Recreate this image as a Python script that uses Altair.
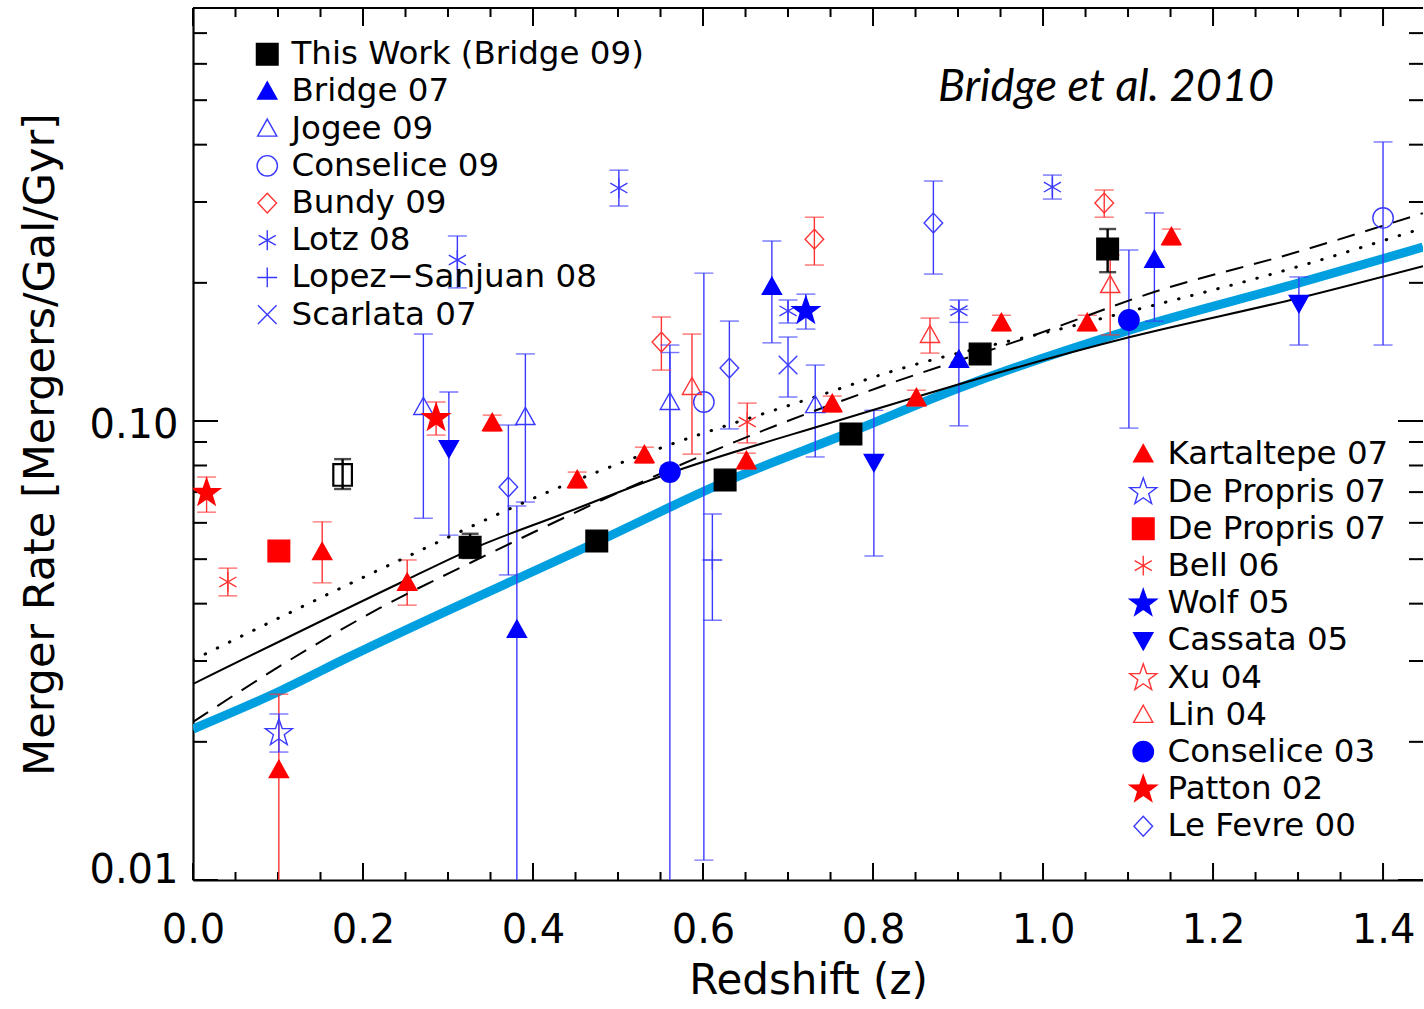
import altair as alt
import pandas as pd

# ---------------- values ----------------
X_DOMAIN = [0.0, 1.447]
Y_DOMAIN = [0.01, 0.794]
X_LABELS = [0.0, 0.2, 0.4, 0.6, 0.8, 1.0, 1.2, 1.4]
X_MINOR = [0.05, 0.1, 0.15, 0.25, 0.3, 0.35, 0.45, 0.5, 0.55, 0.65, 0.7, 0.75,
           0.85, 0.9, 0.95, 1.05, 1.1, 1.15, 1.25, 1.3, 1.35]
Y_LABELS = [0.01, 0.1]
Y_MINOR = [0.02, 0.03, 0.04, 0.05, 0.06, 0.07, 0.08, 0.09, 0.2, 0.3, 0.4, 0.5, 0.6, 0.7]

# left legend group
THIS_WORK_Z = [0.326, 0.475, 0.626, 0.774, 0.926, 1.076]
THIS_WORK_RATE = [0.0531, 0.0548, 0.0744, 0.0937, 0.140, 0.237]
THIS_WORK_LO = [0.0503, 0.0532, 0.0722, 0.0909, 0.136, 0.211]
THIS_WORK_HI = [0.0568, 0.0564, 0.0766, 0.0965, 0.144, 0.262]

THIS_WORK_OPEN_Z = [0.176]
THIS_WORK_OPEN_RATE = [0.0763]
THIS_WORK_OPEN_LO = [0.0711]
THIS_WORK_OPEN_HI = [0.0826]

BRIDGE07_Z = [0.381, 0.681, 0.901, 1.131]
BRIDGE07_RATE = [0.0351, 0.196, 0.136, 0.2244]
BRIDGE07_LO = [0.005, 0.148, 0.0976, 0.165]
BRIDGE07_HI = [0.0653, 0.2467, 0.175, 0.284]

JOGEE09_Z = [0.271, 0.391, 0.561, 0.732]
JOGEE09_RATE = [0.1073, 0.102, 0.110, 0.1083]
JOGEE09_LO = [0.0614, 0.0666, 0.080, 0.0835]
JOGEE09_HI = [0.1547, 0.140, 0.141, 0.1324]

CONSELICE09_Z = [0.601, 1.400]
CONSELICE09_RATE = [0.110, 0.277]
CONSELICE09_LO = [0.01105, 0.1464]
CONSELICE09_HI = [0.210, 0.4055]

BUNDY09_Z = [0.551, 0.731, 1.072]
BUNDY09_RATE = [0.1486, 0.249, 0.2985]
BUNDY09_LO = [0.1291, 0.2187, 0.278]
BUNDY09_HI = [0.1685, 0.278, 0.3186]

LOTZ08_Z = [0.311, 0.501, 0.700, 0.901, 1.011]
LOTZ08_RATE = [0.2243, 0.3218, 0.1737, 0.174, 0.3234]
LOTZ08_LO = [0.195, 0.294, 0.1635, 0.164, 0.3045]
LOTZ08_HI = [0.253, 0.352, 0.1835, 0.1835, 0.3434]

LOPEZ08_Z = [0.611]
LOPEZ08_RATE = [0.0498]
LOPEZ08_LO = [0.0368]
LOPEZ08_HI = [0.0627]

SCARLATA07_Z = [0.700]
SCARLATA07_RATE = [0.1324]
SCARLATA07_LO = [0.1128]
SCARLATA07_HI = [0.1524]

# right legend group
KARTALTEPE07_Z = [0.101, 0.152, 0.252, 0.352, 0.452, 0.531, 0.651, 0.752, 0.851, 0.951, 1.052, 1.151]
KARTALTEPE07_RATE = [0.01737, 0.0518, 0.0444, 0.099, 0.0744, 0.0843, 0.0818, 0.1089, 0.1122, 0.1635, 0.1635, 0.2518]
KARTALTEPE07_LO = [0.005, 0.0444, 0.0397, 0.0950, 0.0714, 0.0809, 0.0785, 0.1045, 0.1077, 0.1570, 0.1570, 0.2417]
KARTALTEPE07_HI = [0.0254, 0.0603, 0.0498, 0.1030, 0.0774, 0.0877, 0.0851, 0.1133, 0.1167, 0.1700, 0.1700, 0.2619]

DEPROPRIS07_STAR_Z = [0.101]
DEPROPRIS07_STAR_RATE = [0.0209]
DEPROPRIS07_STAR_LO = [0.019]
DEPROPRIS07_STAR_HI = [0.023]

DEPROPRIS07_SQ_Z = [0.101]
DEPROPRIS07_SQ_RATE = [0.0521]

BELL06_Z = [0.041, 0.652]
BELL06_RATE = [0.0446, 0.0995]
BELL06_LO = [0.0416, 0.0896]
BELL06_HI = [0.0478, 0.1094]

WOLF05_Z = [0.721]
WOLF05_RATE = [0.1737]
WOLF05_LO = [0.1586]
WOLF05_HI = [0.189]

CASSATA05_Z = [0.301, 0.801, 1.301]
CASSATA05_RATE = [0.0873, 0.0814, 0.1807]
CASSATA05_LO = [0.0564, 0.0508, 0.1464]
CASSATA05_HI = [0.1157, 0.1055, 0.206]

XU04_Z = []
XU04_RATE = []

LIN04_Z = [0.587, 0.867, 1.079]
LIN04_RATE = [0.1186, 0.154, 0.1978]
LIN04_LO = [0.0847, 0.1406, 0.154]
LIN04_HI = [0.1547, 0.1676, 0.23]

CONSELICE03_Z = [0.561, 1.101]
CONSELICE03_RATE = [0.0774, 0.166]
CONSELICE03_LO = [0.005, 0.0965]
CONSELICE03_HI = [0.1464, 0.2358]

PATTON02_Z = [0.016, 0.286]
PATTON02_RATE = [0.0697, 0.1015]
PATTON02_LO = [0.0633, 0.0932]
PATTON02_HI = [0.0755, 0.110]

LEFEVRE00_Z = [0.371, 0.631, 0.871]
LEFEVRE00_RATE = [0.0718, 0.1304, 0.27]
LEFEVRE00_LO = [0.0462, 0.0961, 0.209]
LEFEVRE00_HI = [0.098, 0.1651, 0.3333]

# model curves
CYAN_Z = [0.0, 0.1024, 0.1812, 0.4753, 0.6259, 0.7741, 0.9012, 1.1024, 1.3012, 1.447]
CYAN_RATE = [0.02133, 0.02581, 0.03047, 0.05451, 0.07365, 0.09463, 0.1180, 0.1579, 0.1999, 0.2392]
SOLID_Z = [0.0, 0.2435, 0.3259, 0.4318, 0.5612, 0.7494, 1.1024, 1.3012, 1.447]
SOLID_RATE = [0.02673, 0.04437, 0.0524, 0.06242, 0.07703, 0.0990, 0.1524, 0.1854, 0.2175]
DASHED_Z = [0.0, 0.1141, 0.22, 0.3259, 0.6635, 0.8082, 0.9835, 1.1306, 1.2988, 1.447]
DASHED_RATE = [0.02209, 0.03016, 0.03914, 0.04905, 0.09416, 0.1186, 0.1524, 0.191, 0.2334, 0.2838]
DOTTED_Z = [0.0, 0.2435, 0.4318, 0.5341, 0.7494, 0.8082, 1.0529, 1.2988, 1.447]
DOTTED_RATE = [0.03016, 0.04979, 0.07183, 0.08517, 0.1157, 0.1259, 0.1643, 0.2166, 0.2632]

ANNOTATION = ["Bridge et al. 2010"]
X_TITLE = "Redshift (z)"
Y_TITLE = "Merger Rate [Mergers/Gal/Gyr]"

# ---------------- styles ----------------
FONT = "DejaVu Sans"
W, H = 1230, 872
BLUE, LBLUE = "#0000ff", "#3a3aff"
RED, LRED = "#ff0000", "#ff3434"
CYAN = "#00a0e0"
NONE = "transparent"

SQUARE = "M-0.72,-0.72L0.72,-0.72L0.72,0.72L-0.72,0.72Z"
TRI_UP = "M0,-0.64L0.64,0.5L-0.64,0.5Z"
TRI_DOWN = "M0,0.64L0.64,-0.5L-0.64,-0.5Z"
CIRCLE = "M0.68,0A0.68,0.68,0,1,1,-0.68,0A0.68,0.68,0,1,1,0.68,0Z"
DIAMOND = "M0,-0.66L0.62,0L0,0.66L-0.62,0Z"
ASTER = "M0,-0.66L0,0.66M-0.57,-0.33L0.57,0.33M-0.57,0.33L0.57,-0.33"
PLUS = "M-0.66,0L0.66,0M0,-0.66L0,0.66"
CROSS = "M-0.62,-0.62L0.62,0.62M-0.62,0.62L0.62,-0.62"
STAR = ("M0,-0.95L0.2234,-0.3074L0.9035,-0.2936L0.3614,0.1174L0.5586,0.7686L0,0.38"
        "L-0.5586,0.7686L-0.3614,0.1174L-0.9035,-0.2936L-0.2234,-0.3074Z")

# (legend key, z, rate, lo, hi, shape, fill, stroke, errcolor)
LEFT = [
    ("This Work (Bridge 09)", THIS_WORK_Z, THIS_WORK_RATE, THIS_WORK_LO, THIS_WORK_HI, SQUARE, "black", "black", "black"),
    ("Bridge 07", BRIDGE07_Z, BRIDGE07_RATE, BRIDGE07_LO, BRIDGE07_HI, TRI_UP, BLUE, BLUE, LBLUE),
    ("Jogee 09", JOGEE09_Z, JOGEE09_RATE, JOGEE09_LO, JOGEE09_HI, TRI_UP, NONE, LBLUE, LBLUE),
    ("Conselice 09", CONSELICE09_Z, CONSELICE09_RATE, CONSELICE09_LO, CONSELICE09_HI, CIRCLE, NONE, LBLUE, LBLUE),
    ("Bundy 09", BUNDY09_Z, BUNDY09_RATE, BUNDY09_LO, BUNDY09_HI, DIAMOND, NONE, LRED, LRED),
    ("Lotz 08", LOTZ08_Z, LOTZ08_RATE, LOTZ08_LO, LOTZ08_HI, ASTER, NONE, LBLUE, LBLUE),
    ("Lopez\u2212Sanjuan 08", LOPEZ08_Z, LOPEZ08_RATE, LOPEZ08_LO, LOPEZ08_HI, PLUS, NONE, LBLUE, LBLUE),
    ("Scarlata 07", SCARLATA07_Z, SCARLATA07_RATE, SCARLATA07_LO, SCARLATA07_HI, CROSS, NONE, LBLUE, LBLUE),
]
RIGHT = [
    ("Kartaltepe 07", KARTALTEPE07_Z, KARTALTEPE07_RATE, KARTALTEPE07_LO, KARTALTEPE07_HI, TRI_UP, RED, RED, LRED),
    ("De Propris 07", DEPROPRIS07_STAR_Z, DEPROPRIS07_STAR_RATE, DEPROPRIS07_STAR_LO, DEPROPRIS07_STAR_HI, STAR, NONE, LBLUE, LBLUE),
    ("De Propris 07*", DEPROPRIS07_SQ_Z, DEPROPRIS07_SQ_RATE, None, None, SQUARE, RED, RED, LRED),
    ("Bell 06", BELL06_Z, BELL06_RATE, BELL06_LO, BELL06_HI, ASTER, NONE, LRED, LRED),
    ("Wolf 05", WOLF05_Z, WOLF05_RATE, WOLF05_LO, WOLF05_HI, STAR, BLUE, BLUE, LBLUE),
    ("Cassata 05", CASSATA05_Z, CASSATA05_RATE, CASSATA05_LO, CASSATA05_HI, TRI_DOWN, BLUE, BLUE, LBLUE),
    ("Xu 04", XU04_Z, XU04_RATE, None, None, STAR, NONE, LRED, LRED),
    ("Lin 04", LIN04_Z, LIN04_RATE, LIN04_LO, LIN04_HI, TRI_UP, NONE, LRED, LRED),
    ("Conselice 03", CONSELICE03_Z, CONSELICE03_RATE, CONSELICE03_LO, CONSELICE03_HI, CIRCLE, BLUE, BLUE, LBLUE),
    ("Patton 02", PATTON02_Z, PATTON02_RATE, PATTON02_LO, PATTON02_HI, STAR, RED, RED, LRED),
    ("Le Fevre 00", LEFEVRE00_Z, LEFEVRE00_RATE, LEFEVRE00_LO, LEFEVRE00_HI, DIAMOND, NONE, LBLUE, LBLUE),
]


def build(group):
    pts, errs = [], []
    for key, zs, rs, los, his, *_rest in group:
        ecol = _rest[3]
        for i, (z, r) in enumerate(zip(zs, rs)):
            pts.append({"z": z, "rate": r, "key": key})
            if los is not None:
                errs.append({"z": z, "lo": los[i], "hi": his[i], "col": ecol})
    return pd.DataFrame(pts, columns=["z", "rate", "key"]), errs


left_pts, left_err = build(LEFT)
right_pts, right_err = build(RIGHT)
err_all = left_err + right_err
for i, z in enumerate(THIS_WORK_OPEN_Z):
    err_all.append({"z": z, "lo": THIS_WORK_OPEN_LO[i], "hi": THIS_WORK_OPEN_HI[i], "col": "black"})
err_df = pd.DataFrame(err_all)
err_col = err_df[err_df.col != "black"]
err_blk = err_df[err_df.col == "black"]


def caps(df):
    a = df[["z", "lo", "col"]].rename(columns={"lo": "y"})
    b = df[["z", "hi", "col"]].rename(columns={"hi": "y"})
    return pd.concat([a, b], ignore_index=True)


xs = alt.Scale(domain=X_DOMAIN, nice=False, zero=False)
ys = alt.Scale(type="log", domain=Y_DOMAIN, nice=False)


# secondary layers leave the axis unspecified (an explicit axis=None would disable the shared axis)
def X(field):
    return alt.X(f"{field}:Q", scale=xs)


def Y(field):
    return alt.Y(f"{field}:Q", scale=ys)


x_axis = alt.Axis(values=X_LABELS, format=".1f", title=X_TITLE, ticks=False, grid=False,
                  domain=True, domainColor="black", domainWidth=2.2, labelFlush=False,
                  labelFont=FONT, labelFontSize=40, labelColor="black", labelPadding=30,
                  titleFont=FONT, titleFontSize=42, titleFontWeight="normal", titleColor="black",
                  titleX=W / 2, titleY=113, titleBaseline="alphabetic", titleAlign="center")
y_axis = alt.Axis(values=Y_LABELS, format=".2f", title=Y_TITLE, ticks=False,
                  grid=False, domain=True, domainColor="black", domainWidth=2.2,
                  labelFlush=True, labelFlushOffset=6, labelOffset=4,
                  labelFont=FONT, labelFontSize=40, labelColor="black", labelPadding=15,
                  titleFont=FONT, titleFontSize=43, titleFontWeight="normal", titleColor="black",
                  titleX=-153, titleY=H / 2, titleAlign="center", titleBaseline="middle")

# invisible carrier of the two axes
axes = alt.Chart(pd.DataFrame({"z": X_DOMAIN, "rate": Y_DOMAIN})).mark_point(opacity=0).encode(
    x=alt.X("z:Q", scale=xs, axis=x_axis),
    y=alt.Y("rate:Q", scale=ys, axis=y_axis))


def curve(zs, rs):
    return pd.DataFrame({"z": zs, "rate": rs})


cyan = alt.Chart(curve(CYAN_Z, CYAN_RATE)).mark_line(
    color=CYAN, strokeWidth=9, interpolate="monotone", clip=True).encode(x=X("z"), y=Y("rate"))
solid = alt.Chart(curve(SOLID_Z, SOLID_RATE)).mark_line(
    color="black", strokeWidth=2, interpolate="monotone", clip=True).encode(x=X("z"), y=Y("rate"))
dashed = alt.Chart(curve(DASHED_Z, DASHED_RATE)).mark_line(
    color="black", strokeWidth=2, strokeDash=[18, 11], interpolate="monotone", clip=True).encode(
    x=X("z"), y=Y("rate"))
dotted = alt.Chart(curve(DOTTED_Z, DOTTED_RATE)).mark_line(
    color="black", strokeWidth=3, strokeDash=[0.5, 13], strokeCap="round", interpolate="monotone",
    clip=True).encode(x=X("z"), y=Y("rate"))

bars_c = alt.Chart(err_col).mark_rule(strokeWidth=1.4, clip=True).encode(
    x=X("z"), y=Y("lo"), y2="hi:Q", color=alt.Color("col:N", scale=None))
caps_c = alt.Chart(caps(err_col)).mark_tick(orient="horizontal", size=19, thickness=1.4, clip=True).encode(
    x=X("z"), y=Y("y"), color=alt.Color("col:N", scale=None))
bars_k = alt.Chart(err_blk).mark_rule(strokeWidth=2.4, color="black", clip=True).encode(
    x=X("z"), y=Y("lo"), y2="hi:Q")
caps_k = alt.Chart(caps(err_blk)).mark_tick(orient="horizontal", size=17, thickness=2.4, color="black",
                                           clip=True).encode(x=X("z"), y=Y("y"))

open_sq = alt.Chart(pd.DataFrame({"z": THIS_WORK_OPEN_Z, "rate": THIS_WORK_OPEN_RATE})).mark_point(
    shape="M-0.62,-0.72L0.62,-0.72L0.62,0.72L-0.62,0.72Z", size=900, filled=False, color="black",
    strokeWidth=2.2, opacity=1).encode(x=X("z"), y=Y("rate"))


def legend(lx, ly, rowpad):
    return alt.Legend(orient="none", legendX=lx, legendY=ly, title=None, direction="vertical",
                      labelFont=FONT, labelFontSize=32.5, labelColor="black", labelLimit=800,
                      symbolSize=900, symbolStrokeWidth=1.4, symbolOpacity=1, labelOffset=8,
                      rowPadding=rowpad, padding=0, labelExpr="replace(datum.label, '*', '')")


def points(df, group, lx, ly, rowpad):
    keys = [g[0] for g in group]
    lg = legend(lx, ly, rowpad)
    return alt.Chart(df).mark_point(size=900, opacity=1, strokeWidth=1.4, clip=True).encode(
        x=X("z"), y=Y("rate"),
        shape=alt.Shape("key:N", scale=alt.Scale(domain=keys, range=[g[5] for g in group]), legend=lg),
        fill=alt.Fill("key:N", scale=alt.Scale(domain=keys, range=[g[6] for g in group]), legend=lg),
        stroke=alt.Stroke("key:N", scale=alt.Scale(domain=keys, range=[g[7] for g in group]), legend=lg),
    )


pts_left = points(left_pts, LEFT, 58, 30, 4.2)
pts_right = points(right_pts, RIGHT, 934, 430, 3.8)


def tick_layer(values, scale_field, side, length):
    df = pd.DataFrame({"t": values})
    m = alt.Chart(df).mark_rule(color="black", strokeWidth=2)
    if scale_field == "x":
        if side == "bottom":
            return m.encode(x=alt.X("t:Q", scale=xs), y=alt.value(H), y2=alt.value(H - length))
        return m.encode(x=alt.X("t:Q", scale=xs), y=alt.value(0), y2=alt.value(length))
    if side == "left":
        return m.encode(y=alt.Y("t:Q", scale=ys), x=alt.value(0), x2=alt.value(length))
    return m.encode(y=alt.Y("t:Q", scale=ys), x=alt.value(W), x2=alt.value(W - length))


ticks = [
    tick_layer(X_LABELS, "x", "bottom", 17), tick_layer(X_MINOR, "x", "bottom", 8),
    tick_layer(X_LABELS, "x", "top", 18), tick_layer(X_MINOR, "x", "top", 9),
    tick_layer(Y_LABELS, "y", "left", 25), tick_layer(Y_MINOR, "y", "left", 14),
    tick_layer(Y_LABELS, "y", "right", 25), tick_layer(Y_MINOR, "y", "right", 14),
]
top_line = alt.Chart(pd.DataFrame({"t": [0]})).mark_rule(color="black", strokeWidth=2.2).encode(
    x=alt.value(0), x2=alt.value(W), y=alt.value(0))

note = alt.Chart(pd.DataFrame({"label": ANNOTATION})).mark_text(
    font="Lato", fontStyle="italic", fontSize=45, align="center", baseline="alphabetic",
    color="black").encode(x=alt.value(913), y=alt.value(93), text="label:N")

chart = alt.layer(
    axes, cyan, *ticks, top_line, bars_c, caps_c, bars_k, caps_k, solid, dashed, dotted,
    open_sq, pts_left, pts_right, note,
).resolve_scale(
    shape="independent", fill="independent", stroke="independent"
).properties(
    width=W, height=H, background="white",
    padding={"left": 193, "top": 8, "right": 0, "bottom": 124},
    autosize=alt.AutoSizeParams(type="none"),
).configure_view(stroke=None)

chart.save("out.html", embed_options={"renderer": "svg", "actions": False})
